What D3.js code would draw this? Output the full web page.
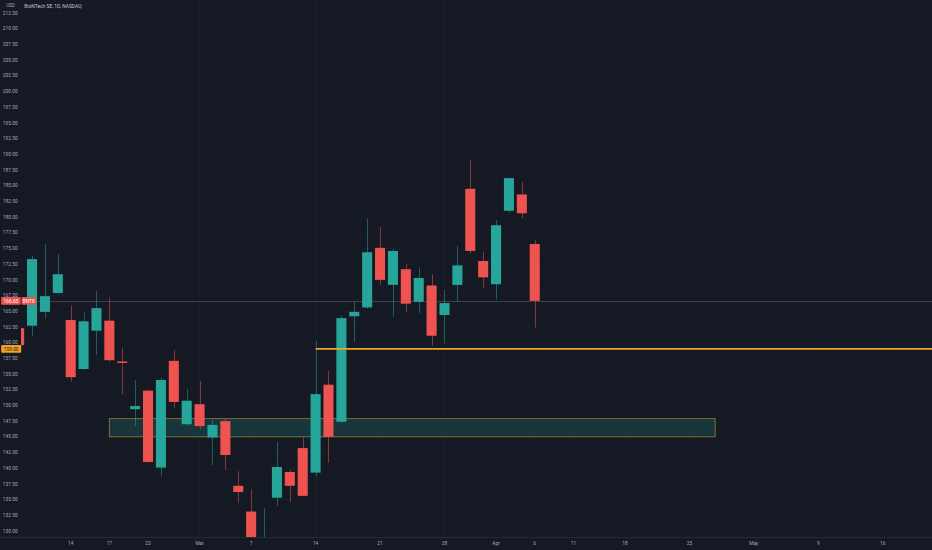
<!DOCTYPE html>
<html><head><meta charset="utf-8">
<script src="https://cdn.jsdelivr.net/npm/d3@7"></script>
<style>html,body{margin:0;padding:0;background:#151924;overflow:hidden}</style>
</head><body>
<svg id="c" width="932" height="550"></svg>
<script>
// ---- data ----
const axisDays = [
"2022-02-08","2022-02-09","2022-02-10","2022-02-11","2022-02-14","2022-02-15","2022-02-16","2022-02-17","2022-02-18","2022-02-22","2022-02-23","2022-02-24","2022-02-25","2022-02-28",
"2022-03-01","2022-03-02","2022-03-03","2022-03-04","2022-03-07","2022-03-08","2022-03-09","2022-03-10","2022-03-11","2022-03-14","2022-03-15","2022-03-16","2022-03-17","2022-03-18","2022-03-21","2022-03-22","2022-03-23","2022-03-24","2022-03-25","2022-03-28","2022-03-29","2022-03-30","2022-03-31",
"2022-04-01","2022-04-04","2022-04-05","2022-04-06","2022-04-07","2022-04-08","2022-04-11","2022-04-12","2022-04-13","2022-04-14","2022-04-18","2022-04-19","2022-04-20","2022-04-21","2022-04-22","2022-04-25","2022-04-26","2022-04-27","2022-04-28","2022-04-29",
"2022-05-02","2022-05-03","2022-05-04","2022-05-05","2022-05-06","2022-05-09","2022-05-10","2022-05-11","2022-05-12","2022-05-13","2022-05-16","2022-05-17","2022-05-18","2022-05-19","2022-05-20"];
const candleDates = axisDays.slice(0, 41);
const open  = [162.3,162.7,164.9,167.9,163.6,155.8,161.9,163.5,157.0,149.4,152.35,140.1,157.1,147.0,150.2,144.9,147.5,137.2,133.1,126.0,135.3,139.4,143.2,139.3,153.3,147.4,164.2,165.6,175.1,169.2,171.7,166.5,169.1,164.4,169.2,184.5,173.0,169.3,181.0,183.6,175.7];
const high  = [162.8,173.8,175.7,174.1,165.9,164.8,168.3,167.2,159.2,154.05,152.5,154.4,158.8,152.6,153.9,147.7,147.9,139.6,136.6,133.7,144.2,139.8,145.0,160.3,155.5,164.4,166.5,179.8,178.4,174.9,172.5,172.0,170.9,168.4,175.4,189.1,174.5,179.5,186.3,185.6,176.35];
const low   = [159.2,161.0,163.8,167.8,153.8,155.6,158.0,157.0,151.7,146.7,140.9,138.65,149.6,146.7,146.2,140.5,139.7,134.5,127.5,125.5,134.0,134.6,135.5,138.65,140.9,147.2,160.15,165.4,169.2,164.1,164.8,164.7,159.5,159.9,166.5,174.2,168.7,166.9,180.7,179.8,162.4];
const close = [159.6,173.3,167.4,170.9,154.5,163.4,165.5,157.2,156.8,149.9,141.0,154.05,150.55,150.75,146.7,146.9,142.1,136.2,128.5,127.8,140.2,137.2,135.6,151.8,145.0,163.9,164.9,174.4,170.0,174.6,166.2,170.3,161.1,166.3,172.3,174.6,170.4,178.7,186.2,180.6,166.65];
const tickDates  = ["2022-02-14","2022-02-17","2022-02-23","2022-03-01","2022-03-07","2022-03-14","2022-03-21","2022-03-28","2022-04-01","2022-04-06","2022-04-11","2022-04-18","2022-04-25","2022-05-02","2022-05-09","2022-05-16"];
const tickLabels = ["14","17","23","Mar","7","14","21","28","Apr","6","11","18","25","May","9","16"];
const priceTicks = d3.range(130, 212.51, 2.5);
const title = "BioNTech SE, 1D, NASDAQ";
const currency = "USD";
const lastPrice = 166.65, symbol = "BNTX";
const levelPrice = 159.00, levelStart = "2022-03-14";
const zone = {start:"2022-02-17", end:"2022-04-27", top:147.9, bottom:145.0};

// ---- drawing ----
const W = 932, H = 550, plotBottom = 537, axisW = 21;
const UP = "#26a69a", DOWN = "#ef5350", BG = "#151924", TXT = "#a7aab3";
const svg = d3.select("#c");
svg.append("rect").attr("width", W).attr("height", H).attr("fill", BG);

const x = d3.scalePoint().domain(axisDays).range([19.14, 934.3]);
const y = d3.scaleLinear().domain([130, 212.5]).range([531, 13]);
const bw = x.step() * 0.78;

svg.append("clipPath").attr("id","plot").append("rect").attr("x",0).attr("y",0).attr("width",W).attr("height",plotBottom);
const g = svg.append("g").attr("clip-path","url(#plot)");

// faint grid
g.append("g").selectAll("line").data(priceTicks).join("line")
  .attr("x1",axisW).attr("x2",W).attr("y1",d=>y(d)).attr("y2",d=>y(d))
  .attr("stroke","rgba(255,255,255,0.022)");
g.append("g").selectAll("line").data(tickDates).join("line")
  .attr("x1",d=>x(d)).attr("x2",d=>x(d)).attr("y1",0).attr("y2",plotBottom)
  .attr("stroke","rgba(255,255,255,0.022)");

// zone
g.append("rect")
  .attr("x", x(zone.start)).attr("width", x(zone.end) - x(zone.start))
  .attr("y", y(zone.top)).attr("height", y(zone.bottom) - y(zone.top))
  .attr("fill","rgba(38,166,154,0.2)").attr("stroke","rgba(190,160,50,0.6)").attr("stroke-width",1);

// last price line
g.append("line").attr("x1",axisW).attr("x2",W).attr("y1",Math.round(y(lastPrice))+0.5).attr("y2",Math.round(y(lastPrice))+0.5)
  .attr("stroke","rgba(130,120,130,0.4)").attr("stroke-width",1);

// candles
const data = candleDates.map((d,i)=>({d,o:open[i],h:high[i],l:low[i],c:close[i]}));
const cg = g.append("g").selectAll("g").data(data).join("g");
cg.append("line")
  .attr("x1",d=>Math.round(x(d.d))+0.5).attr("x2",d=>Math.round(x(d.d))+0.5)
  .attr("y1",d=>y(d.h)).attr("y2",d=>y(d.l))
  .attr("stroke",d=>d.c>=d.o?UP:DOWN).attr("stroke-opacity",0.5).attr("stroke-width",1);
cg.append("rect")
  .attr("x",d=>x(d.d)-bw/2).attr("width",bw)
  .attr("y",d=>y(Math.max(d.o,d.c)))
  .attr("height",d=>Math.max(1.5, Math.abs(y(d.o)-y(d.c))))
  .attr("fill",d=>d.c>=d.o?UP:DOWN);

// level line
g.append("line").attr("x1",x(levelStart)).attr("x2",W).attr("y1",y(levelPrice)).attr("y2",y(levelPrice))
  .attr("stroke","#f0a323").attr("stroke-width",1.8);

// axis panel & bottom axis
svg.append("rect").attr("x",0).attr("y",0).attr("width",axisW).attr("height",H).attr("fill",BG);
svg.append("line").attr("x1",0).attr("x2",W).attr("y1",plotBottom+0.5).attr("y2",plotBottom+0.5).attr("stroke","#262a36");

const font = "Roboto, 'Liberation Sans', sans-serif";
svg.append("g").selectAll("text").data(priceTicks).join("text")
  .attr("x",17.6).attr("y",d=>y(d)).attr("dy","0.35em").attr("text-anchor","end")
  .attr("font-family",font).attr("font-size",4.8).attr("fill",TXT)
  .text(d=>d.toFixed(2));

svg.append("g").selectAll("text").data(tickDates).join("text")
  .attr("x",d=>x(d)).attr("y",543.5).attr("dy","0.35em").attr("text-anchor","middle")
  .attr("font-family",font).attr("font-size",4.8).attr("fill",TXT)
  .text((d,i)=>tickLabels[i]);

svg.append("text").attr("x",10.5).attr("y",5.5).attr("dy","0.35em").attr("text-anchor","middle")
  .attr("font-family",font).attr("font-size",4.6).attr("fill",TXT).text(currency);
svg.append("text").attr("x",24.3).attr("y",6.7).attr("dy","0.35em")
  .attr("font-family",font).attr("font-size",4.9).attr("fill","#c3c6ce").text(title);

// price labels
function tag(px, w, x0, txt, bg, fg){
  const yy = y(px);
  svg.append("rect").attr("x",x0).attr("y",yy-3.8).attr("width",w).attr("height",7.6).attr("rx",0.8).attr("fill",bg);
  svg.append("text").attr("x",x0+w/2).attr("y",yy).attr("dy","0.35em").attr("text-anchor","middle")
    .attr("font-family",font).attr("font-size",4.8).attr("fill",fg).text(txt);
}
tag(lastPrice, 19.5, 1.2, lastPrice.toFixed(2), DOWN, "#ffffff");
tag(lastPrice, 14.5, 21.5, symbol, DOWN, "#ffffff");
tag(levelPrice, 20, 1.2, levelPrice.toFixed(2), "#f0a323", "#1a1a1a");
</script>
</body></html>
